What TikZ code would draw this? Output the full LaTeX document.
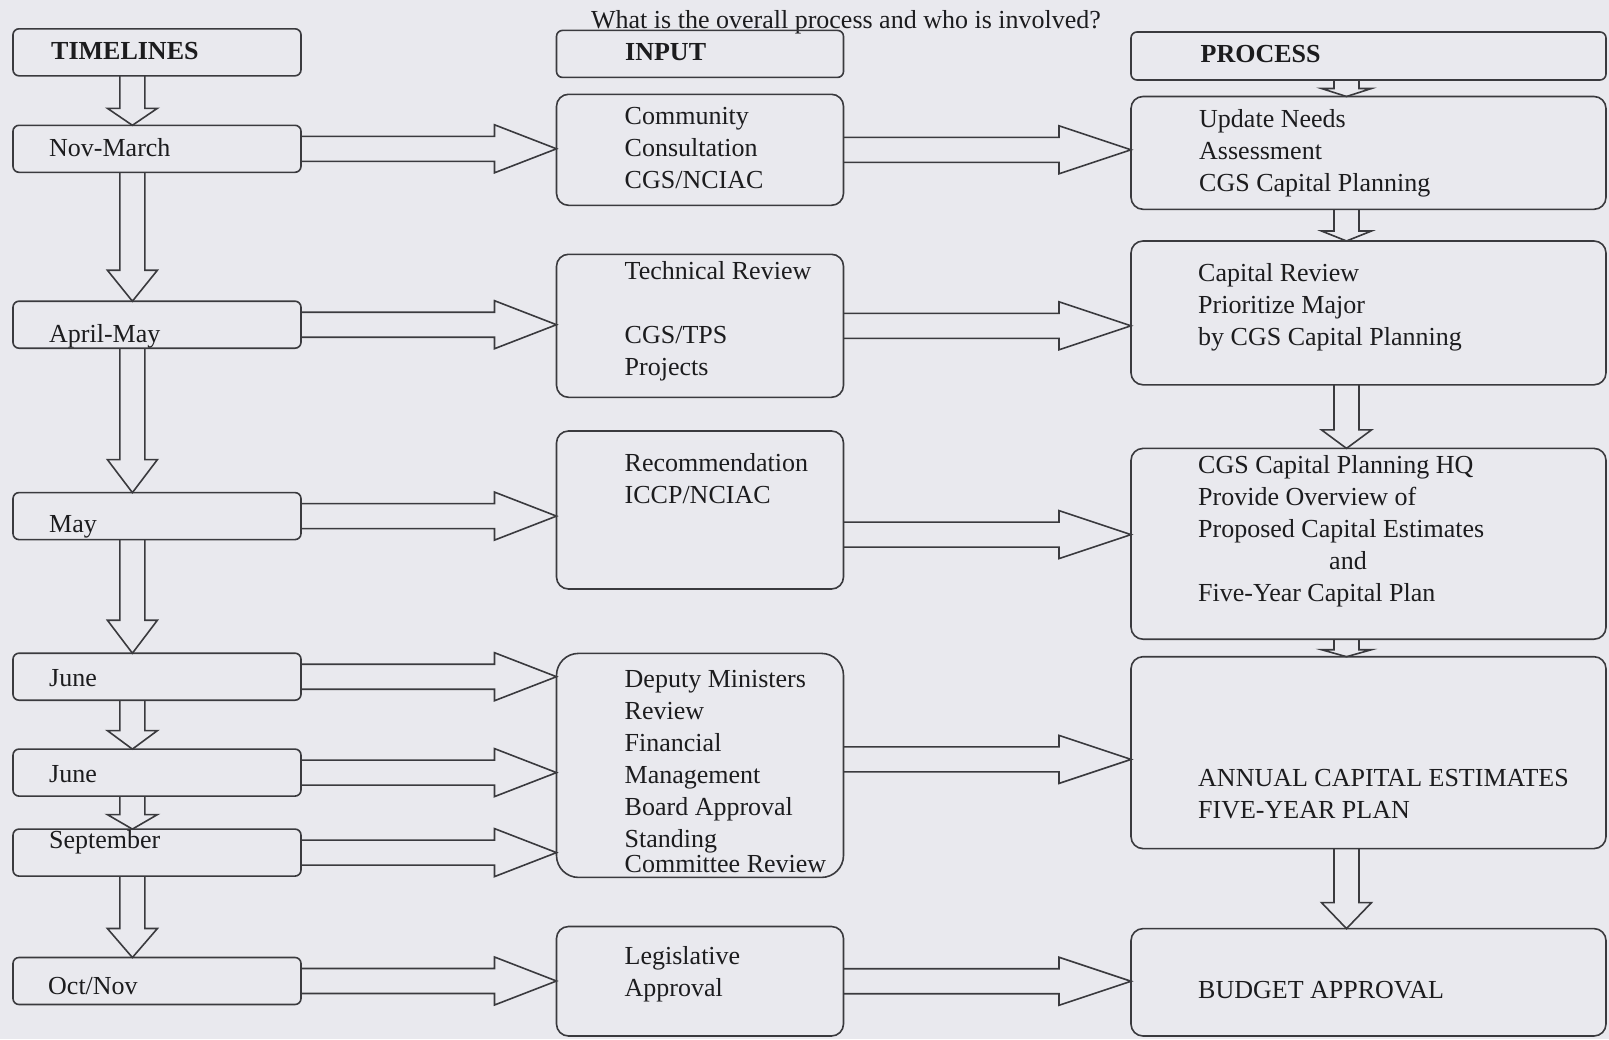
\documentclass[tikz,border=0pt]{standalone}
\usepackage{fontspec}
\setmainfont{Liberation Serif}
\newfontfamily\tnr{Liberation Serif}
\usetikzlibrary{calc}
\definecolor{bgc}{RGB}{233,233,238}
\definecolor{linec}{RGB}{58,58,62}
\definecolor{txtc}{RGB}{28,28,30}
\begin{document}
\begin{tikzpicture}[x=1pt,y=-1pt,text=txtc,font=\tnr\fontsize{26}{32}\selectfont,
  box/.style={draw=linec,line width=1.6pt,rounded corners=12pt,inner sep=0pt,outer sep=0pt},
  small/.style={box,rounded corners=6pt,minimum height=47pt},
  lcol/.style={small,minimum width=288pt},
  txt/.style n args={3}{label={[anchor=north west,inner sep=0pt,align=left,font=\tnr\fontsize{26}{32}\selectfont,xshift=#1pt,yshift=-#2pt]north west:{#3}}},
  fatright/.style={draw=linec,line width=1.6pt,to path={let \p1=(\tikztostart),\p2=(\tikztotarget) in
    (\x1,\y1+12.5pt) -- (\x2-#1,\y1+12.5pt) -- (\x2-#1,\y1+24pt) -- (\x2,\y1)
    -- (\x2-#1,\y1-24pt) -- (\x2-#1,\y1-12.5pt) -- (\x1,\y1-12.5pt)}},
  fatdown/.style={draw=linec,line width=1.6pt,to path={let \p1=(\tikztostart),\p2=(\tikztotarget) in
    (\x1-12.5pt,\y1) -- (\x1-12.5pt,\y2+#1) -- (\x1-25pt,\y2+#1) -- (\x1,\y2)
    -- (\x1+25pt,\y2+#1) -- (\x1+12.5pt,\y2+#1) -- (\x1+12.5pt,\y1)}}]
  \path[use as bounding box,fill=bgc] (0,0) rectangle (1609,1039);
  \node[anchor=base] (head) at (846,28) {What is the overall process and who is involved?};
  % timelines
  \node[lcol,txt={38}{13}{\textbf{TIMELINES}}] (tl) at (157,52.3) {};
  \node[lcol,txt={36}{13}{Nov-March}] (nm) at (157,148.8) {};
  \node[lcol,txt={36}{23}{April-May}] (am) at (157,324.7) {};
  \node[lcol,txt={36}{23}{May}] (my) at (157,516.1) {};
  \node[lcol,txt={36}{16}{June}] (j1) at (157,676.7) {};
  \node[lcol,txt={36}{16}{June}] (j2) at (157,772.6) {};
  \node[lcol,txt={36}{1}{September}] (sp) at (157,852.6) {};
  \node[lcol,txt={35}{20}{Oct/Nov}] (on) at (157,981) {};
  % input
  \node[small,minimum width=287pt,txt={68.5}{13}{\textbf{INPUT}}] (inp) at (700,53.9) {};
  \node[box,minimum width=287pt,minimum height=111pt,txt={68}{13}{Community\\Consultation\\CGS/NCIAC}] (cc) at (700,149.8) {};
  \node[box,minimum width=287pt,minimum height=143pt,txt={68}{7}{Technical Review\\[32pt]CGS/TPS\\Projects}] (tr) at (700,325.8) {};
  \node[box,minimum width=287pt,minimum height=158pt,txt={68}{22}{Recommendation\\ICCP/NCIAC}] (rc) at (700,510) {};
  \node[box,rounded corners=22pt,minimum width=287pt,minimum height=224pt,txt={68}{17}{Deputy Ministers\\Review\\Financial\\Management\\Board Approval\\Standing\\[-7pt]Committee Review}] (dm) at (700,765.4) {};
  \node[box,minimum width=287pt,minimum height=109.5pt,txt={68}{20}{Legislative\\Approval}] (lg) at (700,981.25) {};
  % process
  \node[small,minimum width=475pt,minimum height=48pt,txt={69.5}{13}{\textbf{PROCESS}}] (pr) at (1368.5,56) {};
  \node[box,minimum width=475pt,minimum height=112.8pt,txt={68}{13}{Update Needs\\Assessment\\CGS Capital Planning}] (un) at (1368.5,152.9) {};
  \node[box,minimum width=475pt,minimum height=143.8pt,txt={67}{22}{Capital Review\\Prioritize Major\\by CGS Capital Planning}] (cr) at (1368.5,312.9) {};
  \node[box,minimum width=475pt,minimum height=190.8pt,txt={67}{7}{CGS Capital Planning HQ\\Provide Overview of\\Proposed Capital Estimates\\\hspace*{131pt}and\\Five-Year Capital Plan}] (hq) at (1368.5,543.8) {};
  \node[box,minimum width=475pt,minimum height=191.9pt,txt={67}{112}{ANNUAL CAPITAL ESTIMATES\\FIVE-YEAR PLAN}] (an) at (1368.5,752.65) {};
  \node[box,minimum width=475pt,minimum height=107.4pt,txt={67}{52}{BUDGET APPROVAL}] (bu) at (1368.5,982.3) {};
  \path
    ([xshift=-24.6pt]tl.south) edge[fatdown=17pt] (nm.north)
    ([xshift=-24.6pt]nm.south) edge[fatdown=31pt] (am.north)
    ([xshift=-24.6pt]am.south) edge[fatdown=33pt] (my.north)
    ([xshift=-24.6pt]my.south) edge[fatdown=33pt] (j1.north)
    ([xshift=-24.6pt]j1.south) edge[fatdown=18.5pt] (j2.north)
    ([xshift=-24.6pt]j2.south) edge[fatdown=14.5pt] (sp.north)
    ([xshift=-24.6pt]sp.south) edge[fatdown=29pt] (on.north)
    ([xshift=-22pt]pr.south) edge[fatdown=8pt] (un.north)
    ([xshift=-22pt]un.south) edge[fatdown=10pt] (cr.north)
    ([xshift=-22pt]cr.south) edge[fatdown=18.5pt] (hq.north)
    ([xshift=-22pt]hq.south) edge[fatdown=7pt] (an.north)
    ([xshift=-22pt]an.south) edge[fatdown=26pt] (bu.north);
  \path
    (nm.east) edge[fatright=62pt] (cc.west)
    (am.east) edge[fatright=62pt] (tr.west)
    (my.east) edge[fatright=62pt] (rc.west)
    (j1.east) edge[fatright=62pt] (dm.west)
    (j2.east) edge[fatright=62pt] (dm.west)
    (sp.east) edge[fatright=62pt] (dm.west)
    (on.east) edge[fatright=62pt] (lg.west)
    (cc.east) edge[fatright=72pt] (un.west)
    (tr.east) edge[fatright=72pt] (cr.west)
    ([yshift=-24.6pt]rc.east) edge[fatright=72pt] (hq.west)
    ([yshift=6pt]dm.east) edge[fatright=72pt] (an.west)
    (lg.east) edge[fatright=72pt] (bu.west);
\end{tikzpicture}
\end{document}
